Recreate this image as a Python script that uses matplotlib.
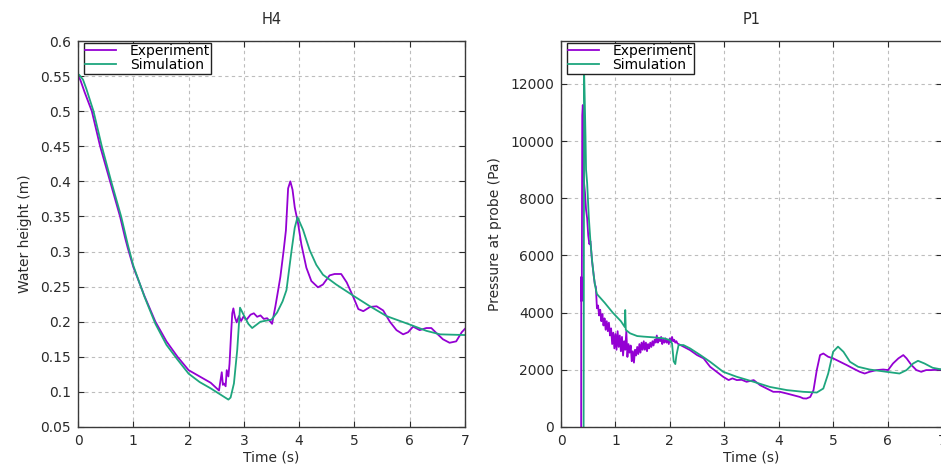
"""
H4 water height and P1 probe pressure: experiment vs simulation
"""

import numpy as np
import matplotlib
matplotlib.use("Agg")
import matplotlib.pyplot as plt

# ---- H4 water height (m) ----
h4_exp_t = [0.0, 0.04, 0.08, 0.12, 0.25, 0.4, 0.58, 0.76, 0.85, 0.9, 1.0, 1.2, 1.4, 1.6, 1.8,
            2.0, 2.2, 2.4, 2.55, 2.6, 2.62, 2.64, 2.67, 2.69, 2.72, 2.74, 2.77, 2.79, 2.81,
            2.84, 2.87, 2.91, 2.95, 2.99, 3.05, 3.12, 3.18, 3.24, 3.3, 3.36, 3.42, 3.48,
            3.51, 3.57, 3.62, 3.66, 3.72, 3.76, 3.8, 3.84, 3.88, 3.92, 3.98, 4.04, 4.13,
            4.22, 4.34, 4.43, 4.55, 4.64, 4.76, 4.86, 4.98, 5.07, 5.16, 5.28, 5.4, 5.52,
            5.64, 5.76, 5.88, 5.97, 6.06, 6.18, 6.3, 6.39, 6.48, 6.6, 6.72, 6.84, 6.94, 7.0]
h4_exp = [0.55, 0.545, 0.536, 0.527, 0.5, 0.45, 0.4, 0.35, 0.32, 0.305, 0.278, 0.237,
          0.2, 0.172, 0.15, 0.131, 0.122, 0.113, 0.102, 0.128, 0.11, 0.112, 0.108, 0.131,
          0.122, 0.14, 0.185, 0.212, 0.219, 0.206, 0.199, 0.208, 0.201, 0.207, 0.203, 0.21,
          0.212, 0.207, 0.209, 0.204, 0.205, 0.2, 0.197, 0.222, 0.245, 0.264, 0.302, 0.33,
          0.39, 0.4, 0.388, 0.363, 0.34, 0.31, 0.277, 0.258, 0.249, 0.253, 0.266, 0.268,
          0.268, 0.256, 0.235, 0.218, 0.215, 0.221, 0.222, 0.216, 0.2, 0.188, 0.182, 0.185,
          0.193, 0.188, 0.191, 0.191, 0.184, 0.175, 0.17, 0.172, 0.185, 0.19]

h4_sim_t = [0.0, 0.02, 0.09, 0.15, 0.28, 0.43, 0.6, 0.78, 0.9, 1.0, 1.2, 1.4, 1.6, 1.8, 2.0,
            2.2, 2.4, 2.6, 2.72, 2.76, 2.82, 2.88, 2.93, 3.0, 3.08, 3.15, 3.3, 3.5, 3.6,
            3.7, 3.77, 3.86, 3.92, 3.97, 4.07, 4.19, 4.31, 4.43, 4.67, 5.0, 5.28, 5.58,
            6.0, 6.3, 6.55, 7.0]
h4_sim = [0.55, 0.552, 0.545, 0.532, 0.5, 0.45, 0.4, 0.35, 0.31, 0.28, 0.236, 0.197,
          0.167, 0.146, 0.126, 0.114, 0.105, 0.095, 0.089, 0.092, 0.112, 0.16, 0.22,
          0.209, 0.197, 0.191, 0.2, 0.203, 0.213, 0.229, 0.245, 0.3, 0.334, 0.349, 0.331,
          0.302, 0.281, 0.267, 0.253, 0.236, 0.222, 0.208, 0.196, 0.187, 0.182, 0.181]

# ---- P1 probe pressure (Pa) ----
p1_exp_t = [0.37, 0.372, 0.378, 0.382, 0.39, 0.40, 0.41, 0.42, 0.44, 0.46, 0.48, 0.50,
            0.52, 0.54, 0.57, 0.60, 0.62,
            0.64, 0.66, 0.68, 0.70, 0.72, 0.74, 0.76, 0.78, 0.80, 0.82, 0.84, 0.86, 0.88,
            0.90, 0.92, 0.94, 0.96, 0.98, 1.00, 1.02, 1.04, 1.06, 1.08, 1.10, 1.12, 1.14,
            1.16, 1.18, 1.20, 1.22, 1.24, 1.26, 1.28, 1.30, 1.32, 1.34, 1.36, 1.38, 1.40,
            1.42, 1.44, 1.46, 1.48, 1.50, 1.52, 1.54, 1.56, 1.58, 1.60, 1.62, 1.64, 1.66,
            1.68, 1.70, 1.72, 1.74, 1.76, 1.78, 1.80, 1.82, 1.84, 1.86, 1.88, 1.90, 1.92,
            1.94, 1.96, 1.98, 2.00, 2.02, 2.04, 2.06, 2.08, 2.10, 2.12, 2.14,
            2.25, 2.37, 2.5, 2.62, 2.74, 2.86, 2.98, 3.08, 3.15, 3.23, 3.32, 3.41, 3.54,
            3.66, 3.78, 3.9, 4.02, 4.15, 4.27, 4.39, 4.45, 4.51, 4.58, 4.64, 4.7, 4.76,
            4.82, 4.91, 5.0, 5.13, 5.25, 5.37, 5.49, 5.58, 5.67, 5.8, 5.92, 6.01, 6.1,
            6.2, 6.29, 6.35, 6.44, 6.53, 6.62, 6.71, 6.8, 7.0]
p1_exp = [0, 5250, 4400, 4800, 10900, 11260, 10800, 8600, 8200, 7600, 7300, 6700,
          6400, 6500, 5800, 5300, 5000,
          4900, 4150, 4250, 3900, 4100, 3700, 3950, 3550, 3800, 3400, 3700, 3350, 3650,
          3200, 3450, 2900, 3300, 2750, 3250, 2700, 3350, 2800, 3200, 2650, 3150, 2500,
          3000, 2700, 3350, 2450, 2900, 2600, 2850, 2300, 2650, 2250, 2700, 2500, 2800,
          2550, 2900, 2600, 2950, 2700, 3000, 2700, 2950, 2650, 2900, 2750, 2950, 2800,
          3000, 2850, 3050, 2950, 3200, 2950, 3100, 3000, 3150, 2900, 3050, 2950, 3100,
          2950, 3050, 2900, 3100, 2950, 3150, 3000, 3050, 2950, 3000, 2920,
          2810, 2690, 2515, 2400, 2105, 1930, 1755, 1640, 1700, 1640, 1650, 1580, 1640,
          1460, 1345, 1230, 1230, 1170, 1110, 1050, 1000, 995, 1050, 1290, 1990, 2515,
          2570, 2455, 2400, 2280, 2165, 2045, 1930, 1870, 1930, 1990, 2010, 1990, 2220,
          2400, 2515, 2400, 2165, 1990, 1930, 1990, 1990, 2010]

p1_sim_t = [0.415, 0.425, 0.435, 0.45, 0.46, 0.48, 0.51, 0.54, 0.57, 0.6, 0.63, 0.66,
            0.8, 0.95, 1.1, 1.17, 1.18, 1.19, 1.2, 1.27, 1.4, 1.52, 1.7, 1.89, 2.0, 2.04,
            2.07, 2.1, 2.12, 2.16, 2.25, 2.37, 2.56, 2.74, 2.98, 3.23, 3.54, 3.84, 4.15,
            4.45, 4.7, 4.82, 4.91, 5.0, 5.09, 5.19, 5.31, 5.46, 5.67, 5.98, 6.22, 6.35,
            6.47, 6.56, 6.68, 6.83, 7.0]
p1_sim = [0, 12300, 11500, 10150, 9000, 8530, 7350, 6500, 5840, 5300, 4900, 4650,
          4350, 4000, 3700, 3500, 4090, 3400, 3380, 3275, 3180, 3160, 3135, 3100, 3040,
          2920, 2300, 2200, 2500, 2865, 2865, 2750, 2515, 2280, 1930, 1755, 1580, 1400,
          1290, 1230, 1205, 1345, 1870, 2630, 2810, 2630, 2280, 2105, 2010, 1930, 1870,
          1990, 2220, 2315, 2220, 2070, 2010]

EXP_COLOR = "#9400d3"
SIM_COLOR = "#1ea67e"
TEXT_COLOR = "#2a2a2a"

plt.rcParams["font.family"] = ["DejaVu Sans"]
plt.rcParams["font.size"] = 10


def style_axes(ax, title, ylabel, ylim, yticks):
    ax.set_xlim(0, 7)
    ax.set_ylim(*ylim)
    ax.set_xticks(range(0, 8))
    ax.set_yticks(yticks)
    ax.set_title(title, fontsize=10.5, pad=12, color=TEXT_COLOR)
    ax.set_xlabel("Time (s)", color=TEXT_COLOR, labelpad=2)
    ax.set_ylabel(ylabel, color=TEXT_COLOR, labelpad=6)
    ax.grid(True, color="#bdbdbd", linestyle=(0, (3, 3)), linewidth=0.8)
    ax.tick_params(direction="in", top=True, right=True, length=4, width=0.8,
                   colors=TEXT_COLOR, labelsize=10, pad=5)
    for s in ax.spines.values():
        s.set_color("#3a3a3a")
        s.set_linewidth(1.0)
    leg = ax.legend(loc="upper left", bbox_to_anchor=(0.015, 0.995), borderaxespad=0,
                    fancybox=False, framealpha=1, edgecolor="#222222", borderpad=0.1,
                    handlelength=2.2, handletextpad=1.0, labelspacing=0.0, fontsize=10)
    leg.get_frame().set_linewidth(1.0)


fig = plt.figure(figsize=(9.41, 4.73), dpi=100)

ax1 = fig.add_axes([0.0829, 0.0973, 0.4113, 0.816])
ax1.plot(h4_exp_t, h4_exp, color=EXP_COLOR, lw=1.3, label="Experiment")
ax1.plot(h4_sim_t, h4_sim, color=SIM_COLOR, lw=1.3, label="Simulation")
style_axes(ax1, "H4", "Water height (m)", (0.05, 0.6),
           np.round(np.arange(0.05, 0.61, 0.05), 2))
ax1.set_yticklabels(["0.05", "0.1", "0.15", "0.2", "0.25", "0.3", "0.35", "0.4",
                     "0.45", "0.5", "0.55", "0.6"])

ax2 = fig.add_axes([0.5962, 0.0973, 0.4048, 0.816])
ax2.plot(p1_exp_t, p1_exp, color=EXP_COLOR, lw=1.3, label="Experiment")
ax2.plot(p1_sim_t, p1_sim, color=SIM_COLOR, lw=1.3, label="Simulation")
style_axes(ax2, "P1", "Pressure at probe (Pa)", (0, 13500),
           [0, 2000, 4000, 6000, 8000, 10000, 12000])

fig.savefig("out.png", dpi=100)
